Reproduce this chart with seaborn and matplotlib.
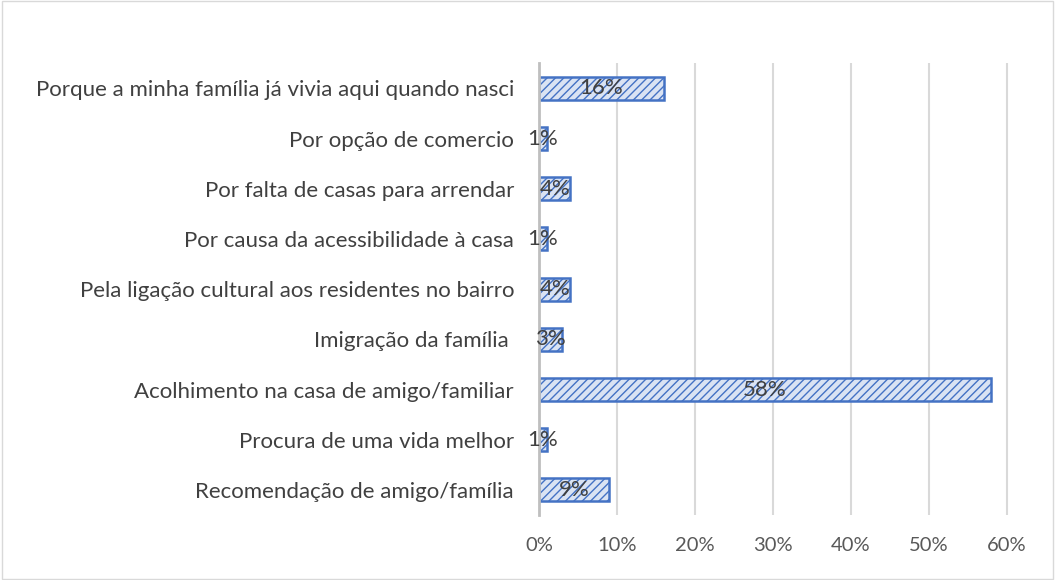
import matplotlib
matplotlib.use("Agg")
import matplotlib.pyplot as plt
import seaborn as sns
import pandas as pd
from matplotlib.patches import Rectangle

categories = [
    "Porque a minha família já vivia aqui quando nasci",
    "Por opção de comercio",
    "Por falta de casas para arrendar",
    "Por causa da acessibilidade à casa",
    "Pela ligação cultural aos residentes no bairro",
    "Imigração da família ",
    "Acolhimento na casa de amigo/familiar",
    "Procura de uma vida melhor",
    "Recomendação de amigo/família",
]
values = [16, 1, 4, 1, 4, 3, 58, 1, 9]
value_labels = ["16%", "1%", "4%", "1%", "4%", "3%", "58%", "1%", "9%"]
tick_vals = [0, 10, 20, 30, 40, 50, 60]
tick_labels = ["0%", "10%", "20%", "30%", "40%", "50%", "60%"]

sns.set_theme(style="white")
plt.rcParams["font.family"] = ["Lato", "DejaVu Sans"]
plt.rcParams["hatch.linewidth"] = 1.0

df = pd.DataFrame({"cat": categories, "val": values})

fig = plt.figure(figsize=(10.55, 5.8), dpi=100)
ax = fig.add_axes([0.511, 0.112, 0.447, 0.779])

sns.barplot(data=df, y="cat", x="val", orient="h", ax=ax,
            color="#DAE3F3", width=0.46, edgecolor="#4472C4", linewidth=1.8)
for p in ax.patches:
    p.set_hatch("////")
    p.set_facecolor("#DAE3F3")
    p.set_edgecolor("#4472C4")

ax.set_xlim(0, 60.5)
ax.set_xticks(tick_vals)
ax.set_xticklabels(tick_labels, color="#595959", fontsize=14.5)
ax.tick_params(axis="y", labelsize=16, labelcolor="#404040", length=0, pad=18)
ax.tick_params(axis="x", length=0, pad=16)
ax.set_xlabel("")
ax.set_ylabel("")
ax.grid(axis="x", color="#D9D9D9", linewidth=1.5)
ax.set_axisbelow(True)
for s in ["top", "right", "bottom"]:
    ax.spines[s].set_visible(False)
ax.spines["left"].set_color("#BFBFBF")
ax.spines["left"].set_linewidth(2)

for i, (v, lab) in enumerate(zip(values, value_labels)):
    ax.text(v / 2, i, lab, ha="center", va="center", fontsize=16, color="#404040")

fig.patches.append(Rectangle((0.002, 0.002), 0.996, 0.996, transform=fig.transFigure,
                             fill=False, edgecolor="#D9D9D9", linewidth=1))

fig.savefig("out.png", dpi=100)
